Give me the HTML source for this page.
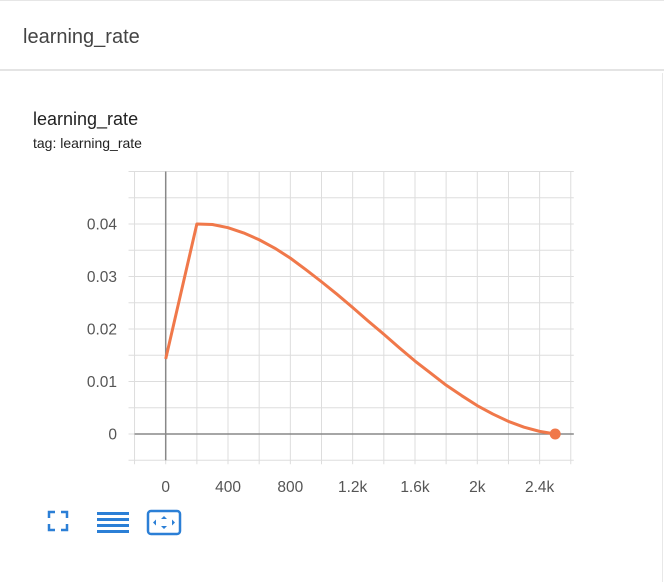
<!DOCTYPE html>
<html><head><meta charset="utf-8"><style>
body{margin:0;width:664px;height:582px;background:#fff;font-family:"Liberation Sans",sans-serif;overflow:hidden;position:relative}
.hdr{position:absolute;left:0;top:0;width:664px;height:71px;border-top:1px solid #e6e6e6;border-bottom:2px solid #e4e4e4;box-sizing:border-box}
.hdr span{position:absolute;left:23px;top:25px;font-size:20px;color:#444}
.card{position:absolute;left:0;top:73px;width:662px;height:509px;border-right:1px solid #e8e8e8}
.t1{position:absolute;left:33px;top:36px;font-size:18px;color:#222}
.t2{position:absolute;left:33px;top:62px;font-size:14px;color:#222}
</style></head><body>
<div class="hdr"><span>learning_rate</span></div>
<div class="card">
<div class="t1">learning_rate</div>
<div class="t2">tag: learning_rate</div>
</div>
<svg id="chart" width="664" height="582" style="position:absolute;left:0;top:0"></svg>
<script>
const steps=[0,200,300,400,500,600,700,800,900,1000,1100,1200,1300,1400,1500,1600,1700,1800,1900,2000,2100,2200,2300,2400,2500];
const lrValues=[0.0143,0.0400,0.0399,0.0393,0.0383,0.0370,0.0354,0.0335,0.0313,0.0290,0.0266,0.0241,0.0215,0.0190,0.0164,0.0139,0.0116,0.0093,0.0073,0.0054,0.0038,0.0024,0.0013,0.0005,0.0];
const xTicks=[0,400,800,1200,1600,2000,2400];
const xTickLabels=["0","400","800","1.2k","1.6k","2k","2.4k"];
const yTicks=[0,0.01,0.02,0.03,0.04];
const yTickLabels=["0","0.01","0.02","0.03","0.04"];
const NS="http://www.w3.org/2000/svg";
const svg=document.getElementById('chart');
const X=v=>165.7+v*0.1558, Y=v=>434-v*5250;
const xMin=-200,xMax=2600,yMin=-0.005,yMax=0.05;
function mk(t,a){const e=document.createElementNS(NS,t);for(const k in a)e.setAttribute(k,a[k]);svg.appendChild(e);return e;}
for(let v=xMin;v<=xMax;v+=200){
 const g=mk('line',{x1:X(v),x2:X(v),y1:Y(yMax),y2:Y(yMin)+4,stroke:'#ddd','stroke-width':1});
 
 
}
for(let i=0;i<=11;i++){const v=yMin+i*0.005;
 const g=mk('line',{x1:X(xMin)-6,x2:X(xMax)+3,y1:Y(v),y2:Y(v),stroke:'#ddd','stroke-width':1});
 
 
}
let a=mk('line',{x1:X(0),x2:X(0),y1:Y(yMax),y2:Y(yMin),stroke:'#888','stroke-width':1.5});


a=mk('line',{x1:X(xMin),x2:X(xMax)+3,y1:Y(0),y2:Y(0),stroke:'#888','stroke-width':1.5});


xTicks.forEach((v,i)=>{const t=mk('text',{x:X(v),y:492,'text-anchor':'middle','font-size':15.5,fill:'#555','font-family':'Liberation Sans, sans-serif'});t.textContent=xTickLabels[i];
 
 });
yTicks.forEach((v,i)=>{const t=mk('text',{x:117,y:Y(v)+5.5,'text-anchor':'end','font-size':15.5,fill:'#555','font-family':'Liberation Sans, sans-serif'});t.textContent=yTickLabels[i];
 
 });
const p=mk('polyline',{points:steps.map((s,i)=>X(s)+','+Y(lrValues[i])).join(' '),fill:'none',stroke:'#f0784a','stroke-width':3,'stroke-linejoin':'round'});


const c=mk('circle',{cx:X(steps[steps.length-1]),cy:Y(lrValues[lrValues.length-1]),r:5.5,fill:'#f0784a'});


</script>
<svg width="150" height="30" style="position:absolute;left:46px;top:509px">
<g stroke="#2b7fd6" stroke-width="2.5" fill="none">
<path d="M3 9V3h6M15 3h6v6M21 15v6h-6M9 21H3v-6"/></g>
<g fill="#2b7fd6">
<rect x="51" y="3" width="32" height="3"/><rect x="51" y="9" width="32" height="3"/><rect x="51" y="15" width="32" height="3"/><rect x="51" y="21" width="32" height="3"/></g>
<g>
<rect x="102" y="2" width="32" height="23" rx="3" fill="none" stroke="#2b7fd6" stroke-width="2.5"/>
<path d="M118 7l3 3h-6zM118 20l3-3h-6zM107 13.5l3-3v6zM129 13.5l-3-3v6z" fill="#2b7fd6"/></g>
</svg>
</body></html>
